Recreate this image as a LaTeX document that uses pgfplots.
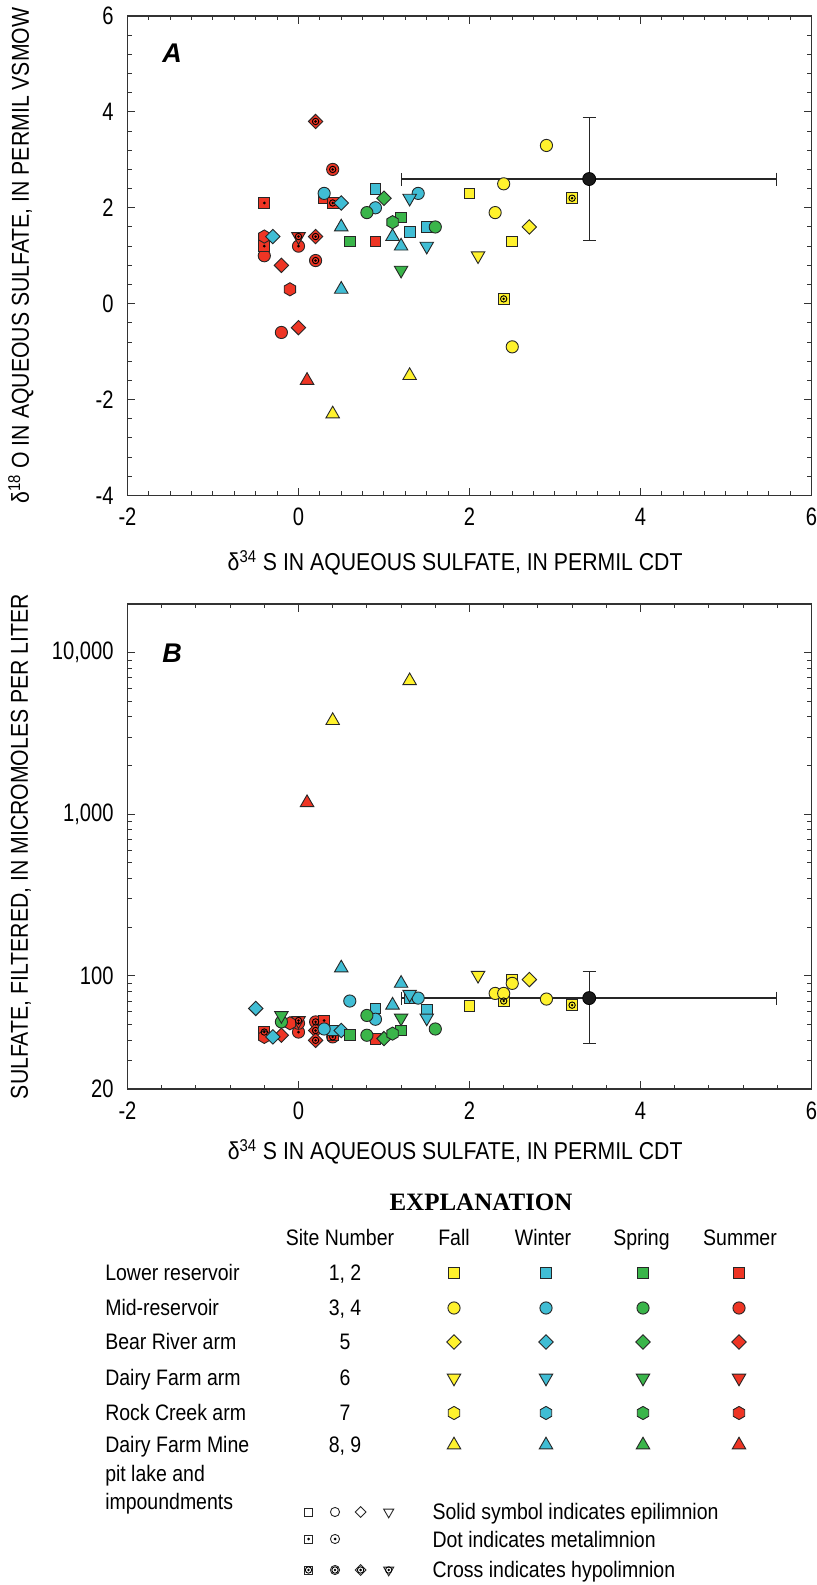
\documentclass[border=0pt]{standalone}
\usepackage{fontspec}
\setmainfont{Liberation Sans}[FakeStretch=0.87]
\newfontfamily\tickfont{Liberation Sans}[FakeStretch=0.8]
\newfontfamily\panelfont{Liberation Sans}
\newfontfamily\explfont{Liberation Serif}
\usepackage{pgfplots}
\pgfplotsset{compat=1.18}
\usetikzlibrary{arrows.meta}

\definecolor{cFa}{HTML}{FFF22D}
\definecolor{cWi}{HTML}{40BDD4}
\definecolor{cSp}{HTML}{3AB54A}
\definecolor{cSu}{HTML}{EE3524}

\pgfdeclareplotmark{dtri*}{%
  \pgfpathmoveto{\pgfqpointpolar{-90}{\pgfplotmarksize}}%
  \pgfpathlineto{\pgfqpointpolar{30}{\pgfplotmarksize}}%
  \pgfpathlineto{\pgfqpointpolar{150}{\pgfplotmarksize}}%
  \pgfpathclose\pgfusepathqfillstroke}
\pgfdeclareplotmark{utri*}{%
  \pgfpathmoveto{\pgfqpointpolar{90}{\pgfplotmarksize}}%
  \pgfpathlineto{\pgfqpointpolar{-30}{\pgfplotmarksize}}%
  \pgfpathlineto{\pgfqpointpolar{210}{\pgfplotmarksize}}%
  \pgfpathclose\pgfusepathqfillstroke}
\pgfdeclareplotmark{dia*}{%
  \pgfpathmoveto{\pgfqpoint{0pt}{\pgfplotmarksize}}%
  \pgfpathlineto{\pgfqpoint{\pgfplotmarksize}{0pt}}%
  \pgfpathlineto{\pgfqpoint{0pt}{-\pgfplotmarksize}}%
  \pgfpathlineto{\pgfqpoint{-\pgfplotmarksize}{0pt}}%
  \pgfpathclose\pgfusepathqfillstroke}
\pgfdeclareplotmark{hex*}{%
  \pgfpathmoveto{\pgfqpointpolar{90}{\pgfplotmarksize}}%
  \pgfpathlineto{\pgfqpointpolar{30}{\pgfplotmarksize}}%
  \pgfpathlineto{\pgfqpointpolar{-30}{\pgfplotmarksize}}%
  \pgfpathlineto{\pgfqpointpolar{-90}{\pgfplotmarksize}}%
  \pgfpathlineto{\pgfqpointpolar{-150}{\pgfplotmarksize}}%
  \pgfpathlineto{\pgfqpointpolar{150}{\pgfplotmarksize}}%
  \pgfpathclose\pgfusepathqfillstroke}
\pgfdeclareplotmark{meta}{\pgfpathcircle{\pgfpointorigin}{0.75pt}\pgfusepathqfill}
\pgfdeclareplotmark{hypo}{\pgfpathcircle{\pgfpointorigin}{1.6pt}\pgfusepathqstroke
  \pgfpathcircle{\pgfpointorigin}{0.7pt}\pgfusepathqfill}

\newcommand{\bfont}{\fontsize{11.2}{13}\selectfont}
\newcommand{\lfont}{\fontsize{12.2}{14}\selectfont}
\newcommand{\tfont}{\tickfont\fontsize{12.6}{14}\selectfont}

\pgfplotsset{
  mk/.style={only marks, mark options={draw=black!85, line width=0.45pt, fill=#1}},
  sq/.style={mark=square*, mark size=2.7pt},
  ci/.style={mark=*, mark size=3.05pt},
  di/.style={mark=dia*, mark size=3.6pt},
  dt/.style={mark=dtri*, mark size=3.9pt},
  ut/.style={mark=utri*, mark size=3.9pt},
  hx/.style={mark=hex*, mark size=3.3pt},
  me/.style={only marks, mark=meta, mark options={draw=black, fill=black}},
  hy/.style={only marks, mark=hypo, mark options={draw=black, fill=black, line width=0.45pt}},
  axstyle/.style={
    scale only axis, width=342pt, xmin=-2, xmax=6,
    xtick={-2,0,2,4,6}, xticklabels={-2,0,2,4,6},
    axis line style={draw=black!80, line width=0.6pt},
    tick style={draw=black!80, line width=0.5pt},
    major tick length=3.8pt, minor tick length=2.2pt,
    tick label style={font=\tfont},
    label style={font=\lfont},
    xticklabel style={yshift=-2.5pt},
    yticklabel style={xshift=-3pt},
    clip=false,
  },
  blackpt/.style={only marks, mark=*, mark size=3.25pt,
    mark options={fill=black!90, draw=black},
    error bars/.cd, x dir=both, x explicit, y dir=both, y explicit,
    error mark=none,
    error bar style={line width=0.6pt, black!85,
      {Bar[width=6.5pt,line width=0.6pt]}-{Bar[width=6.5pt,line width=0.6pt]}}},
}

\begin{document}
\bfont
\begin{tikzpicture}
\useasboundingbox (0pt,0pt) rectangle (408.5pt,792.5pt);

% ---------------- Panel A ----------------
\begin{axis}[axstyle, at={(63.75pt,544.75pt)}, anchor=south west,
  height=239.75pt, ymin=-4, ymax=6,
  ytick={-4,-2,0,2,4,6}, yticklabels={-4,-2,0,2,4,6},
  minor x tick num=7, minor y tick num=4,
  xlabel={δ\textsuperscript{34} S IN AQUEOUS SULFATE, IN PERMIL CDT},
  xlabel style={at={(axis description cs:0.479,-0.157)}, anchor=base},
  ylabel={δ\textsuperscript{18} O IN AQUEOUS SULFATE, IN PERMIL VSMOW},
  ylabel style={at={(axis description cs:-0.156,0.5)}, anchor=center},
]
% summer (red)
\addplot[mk=cSu, ci] coordinates {(0.4,2.8) (-0.4,1.0) (0.0,1.2) (0.2,0.9) (-0.2,-0.6)};
\addplot[mk=cSu, sq] coordinates {(0.3,2.2) (0.4,2.1) (-0.4,2.1) (0.9,1.3) (-0.4,1.2)};
\addplot[mk=cSu, di] coordinates {(0.2,3.8) (0.2,1.4) (-0.2,0.8) (0.0,-0.5)};
\addplot[mk=cSu, dt] coordinates {(0.0,1.4)};
\addplot[mk=cSu, hx] coordinates {(-0.4,1.4) (-0.1,0.3)};
\addplot[mk=cSu, ut] coordinates {(0.1,-1.6)};
\addplot[me] coordinates {(-0.4,2.1) (-0.4,1.2) (0.0,1.2)};
\addplot[hy] coordinates {(0.4,2.8) (0.4,2.1) (0.2,3.8) (0.2,1.4) (0.0,1.4) (0.2,0.9)};
% winter (cyan)
\addplot[mk=cWi, ci] coordinates {(0.3,2.3) (0.9,2.0) (1.4,2.3)};
\addplot[mk=cWi, sq] coordinates {(0.9,2.4) (1.5,1.6) (1.3,1.5)};
\addplot[mk=cWi, di] coordinates {(0.5,2.1) (-0.3,1.4)};
\addplot[mk=cWi, dt] coordinates {(1.3,2.2) (1.5,1.2)};
\addplot[mk=cWi, ut] coordinates {(0.5,1.6) (1.1,1.4) (1.2,1.2) (0.5,0.3)};
% spring (green)
\addplot[mk=cSp, ci] coordinates {(0.8,1.9) (1.6,1.6)};
\addplot[mk=cSp, sq] coordinates {(1.2,1.8) (0.6,1.3)};
\addplot[mk=cSp, di] coordinates {(1.0,2.2)};
\addplot[mk=cSp, dt] coordinates {(1.2,0.7)};
\addplot[mk=cSp, hx] coordinates {(1.1,1.7)};
% fall (yellow)
\addplot[mk=cFa, ci] coordinates {(2.9,3.3) (2.4,2.5) (2.3,1.9) (2.5,-0.9)};
\addplot[mk=cFa, sq] coordinates {(2.0,2.3) (2.5,1.3) (3.2,2.2) (2.4,0.1)};
\addplot[mk=cFa, di] coordinates {(2.7,1.6)};
\addplot[mk=cFa, dt] coordinates {(2.1,1.0)};
\addplot[mk=cFa, ut] coordinates {(0.4,-2.3) (1.3,-1.5)};
\addplot[hy] coordinates {(3.2,2.2) (2.4,0.1)};
% mean with error bars
\addplot[blackpt] coordinates {(3.4,2.6) +- (2.2,1.3)};
\end{axis}

% ---------------- Panel B ----------------
\begin{axis}[axstyle, at={(63.75pt,248pt)}, anchor=south west,
  height=242.5pt, ymode=log, ymin=20, ymax=20000,
  ytick={20,100,1000,10000}, yticklabels={20,100,{1,000},{10,000}},
  minor ytick={30,40,50,60,70,80,90,200,300,400,500,600,700,800,900,2000,3000,4000,5000,6000,7000,8000,9000},
  minor x tick num=4,
  xlabel={δ\textsuperscript{34} S IN AQUEOUS SULFATE, IN PERMIL CDT},
  xlabel style={at={(axis description cs:0.479,-0.146)}, anchor=base},
  ylabel={SULFATE, FILTERED, IN MICROMOLES PER LITER},
  ylabel style={at={(axis description cs:-0.156,0.5)}, anchor=center},
]
% summer (red)
\addplot[mk=cSu, ci] coordinates {(0.2,52) (0.4,42) (0.0,45) (0.0,51)};
\addplot[mk=cSu, sq] coordinates {(0.9,41) (0.3,53) (0.4,43) (-0.4,45)};
\addplot[mk=cSu, di] coordinates {(0.2,46) (0.2,40) (-0.2,43)};
\addplot[mk=cSu, dt] coordinates {(0.0,53)};
\addplot[mk=cSu, hx] coordinates {(-0.1,51) (-0.4,42)};
\addplot[mk=cSu, ut] coordinates {(0.1,1180)};
\addplot[me] coordinates {(0.3,53) (0.4,43) (0.0,45) (0.0,51)};
\addplot[hy] coordinates {(0.2,52) (0.4,42) (0.2,46) (0.2,40) (0.0,53) (-0.4,45)};
% winter (cyan)
\addplot[mk=cWi, sq] coordinates {(1.3,73) (0.9,63) (1.5,62) (0.4,46)};
\addplot[mk=cWi, ci] coordinates {(1.4,73) (0.6,70) (0.9,54) (0.3,47)};
\addplot[mk=cWi, di] coordinates {(-0.5,63) (0.5,46) (-0.3,42)};
\addplot[mk=cWi, dt] coordinates {(1.3,77) (1.5,55)};
\addplot[mk=cWi, ut] coordinates {(0.5,112) (1.2,90) (1.1,66)};
% spring (green)
\addplot[mk=cSp, ci] coordinates {(0.8,57) (0.8,43) (1.6,47) (-0.2,52)};
\addplot[mk=cSp, sq] coordinates {(1.2,46) (0.6,43)};
\addplot[mk=cSp, di] coordinates {(1.0,41)};
\addplot[mk=cSp, dt] coordinates {(-0.2,57) (1.2,55)};
\addplot[mk=cSp, hx] coordinates {(1.1,44)};
% fall (yellow)
\addplot[mk=cFa, sq] coordinates {(2.5,94) (2.0,65) (2.4,70) (3.2,66)};
\addplot[mk=cFa, ci] coordinates {(2.5,90) (2.3,78) (2.4,78) (2.9,72)};
\addplot[mk=cFa, di] coordinates {(2.7,95)};
\addplot[mk=cFa, dt] coordinates {(2.1,101)};
\addplot[mk=cFa, ut] coordinates {(1.3,6700) (0.4,3800)};
\addplot[hy] coordinates {(2.4,70) (3.2,66)};
% mean with error bars
\addplot[blackpt] coordinates {(3.4,73) +- (2.2,35)};
\end{axis}

% ---------------- Canvas for labels and explanation ----------------
\newcommand{\legcol}[2]{%
  \addplot[mk=#2, sq] coordinates {(#1,-1273)};
  \addplot[mk=#2, ci] coordinates {(#1,-1308)};
  \addplot[mk=#2, di] coordinates {(#1,-1342)};
  \addplot[mk=#2, dt] coordinates {(#1,-1378)};
  \addplot[mk=#2, hx] coordinates {(#1,-1413)};
  \addplot[mk=#2, ut] coordinates {(#1,-1445)};}
\begin{axis}[at={(0pt,0pt)}, anchor=south west, scale only axis,
  width=408.5pt, height=792.5pt, xmin=0, xmax=817, ymin=-1585, ymax=0,
  hide axis, clip=false, every node/.append style={inner sep=0pt}]
\node[font=\panelfont\bfseries\itshape\fontsize{13.5}{15}\selectfont] at (axis cs:172,-53) {A};
\node[font=\panelfont\bfseries\itshape\fontsize{13.5}{15}\selectfont] at (axis cs:172,-653) {B};

\node[anchor=base, font=\explfont\bfseries\fontsize{12.5}{14}\selectfont] at (axis cs:481,-1211) {EXPLANATION};
\node[anchor=base] at (axis cs:340,-1246) {Site Number};
\node[anchor=base] at (axis cs:454,-1246) {Fall};
\node[anchor=base] at (axis cs:543,-1246) {Winter};
\node[anchor=base] at (axis cs:641.5,-1246) {Spring};
\node[anchor=base] at (axis cs:740,-1246) {Summer};

\node[anchor=base west] at (axis cs:97.4,-1280.5) {Lower reservoir};
\node[anchor=base west] at (axis cs:97.4,-1315.5) {Mid-reservoir};
\node[anchor=base west] at (axis cs:97.4,-1349.5) {Bear River arm};
\node[anchor=base west] at (axis cs:97.4,-1385.5) {Dairy Farm arm};
\node[anchor=base west] at (axis cs:97.4,-1420.5) {Rock Creek arm};
\node[anchor=base west] at (axis cs:97.4,-1452.5) {Dairy Farm Mine};
\node[anchor=base west] at (axis cs:97.4,-1481) {pit lake and};
\node[anchor=base west] at (axis cs:97.4,-1509.5) {impoundments};

\node[anchor=base] at (axis cs:345,-1280.5) {1, 2};
\node[anchor=base] at (axis cs:345,-1315.5) {3, 4};
\node[anchor=base] at (axis cs:345,-1349.5) {5};
\node[anchor=base] at (axis cs:345,-1385.5) {6};
\node[anchor=base] at (axis cs:345,-1420.5) {7};
\node[anchor=base] at (axis cs:345,-1452.5) {8, 9};

\legcol{454}{cFa}
\legcol{546}{cWi}
\legcol{643}{cSp}
\legcol{739}{cSu}

\addplot[mk=white, sq, every mark/.append style={scale=0.75}] coordinates {(308.5,-1512) (308.5,-1539) (308.5,-1570)};
\addplot[mk=white, ci, every mark/.append style={scale=0.75}] coordinates {(335,-1512) (335,-1539) (335,-1570)};
\addplot[mk=white, di, every mark/.append style={scale=0.75}] coordinates {(360.6,-1512) (360.6,-1570)};
\addplot[mk=white, dt, every mark/.append style={scale=0.75}] coordinates {(388.7,-1512) (388.7,-1570)};
\addplot[me] coordinates {(308.5,-1539) (335,-1539)};
\addplot[hy] coordinates {(308.5,-1570) (335,-1570) (360.6,-1570) (388.7,-1570)};

\node[anchor=base west] at (axis cs:424.7,-1519.5) {Solid symbol indicates epilimnion};
\node[anchor=base west] at (axis cs:424.7,-1547) {Dot indicates metalimnion};
\node[anchor=base west] at (axis cs:424.7,-1577.5) {Cross indicates hypolimnion};
\end{axis}
\end{tikzpicture}
\end{document}
